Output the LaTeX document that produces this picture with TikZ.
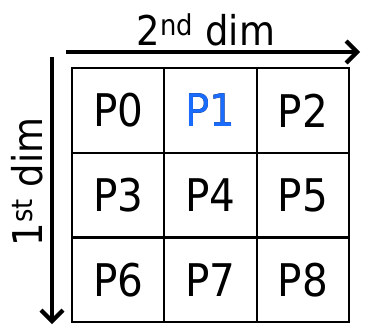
\documentclass[tikz,border=0pt]{standalone}
\usepackage{fontspec}
\setmainfont{DejaVu Sans Condensed}
\usetikzlibrary{arrows.meta}
\definecolor{hiblue}{HTML}{1A6CFF}
\begin{document}
\begin{tikzpicture}[x=1pt,y=-1pt,
  cell/.style={draw=black,line width=2.2pt,minimum width=92.3pt,minimum height=84.7pt,
    inner sep=0pt,outer sep=0pt,font=\fontsize{45}{45}\selectfont,anchor=north west},
  axis/.style={line width=4.2pt,-{Straight Barb[length=11pt,width=22pt]}},
  axlabel/.style={inner sep=0pt,font=\fontsize{41}{41}\selectfont}]
\useasboundingbox (0,0) rectangle (366,324);
% 3x3 process grid
\foreach \r in {0,1,2}{
  \foreach \c in {0,1,2}{
    \pgfmathtruncatemacro{\n}{3*\r+\c}
    \node[cell] (p\n) at ({72+92.3*\c},{68+84.7*\r}) {P\n};
  }
}
\node[cell,text=hiblue] at (p1.north west) {P1};
% axes
\coordinate (xs) at (66,52);
\coordinate (xe) at (360,52);
\coordinate (ys) at (52,57);
\coordinate (ye) at (52,324);
\draw[axis] (xs) -- (xe);
\draw[axis] (ys) -- (ye);
\node[axlabel,anchor=base] (xl) at (206,45) {2\textsuperscript{nd} dim};
\node[axlabel,anchor=base,rotate=90] (yl) at (42,182) {1\textsuperscript{st} dim};
\end{tikzpicture}
\end{document}
